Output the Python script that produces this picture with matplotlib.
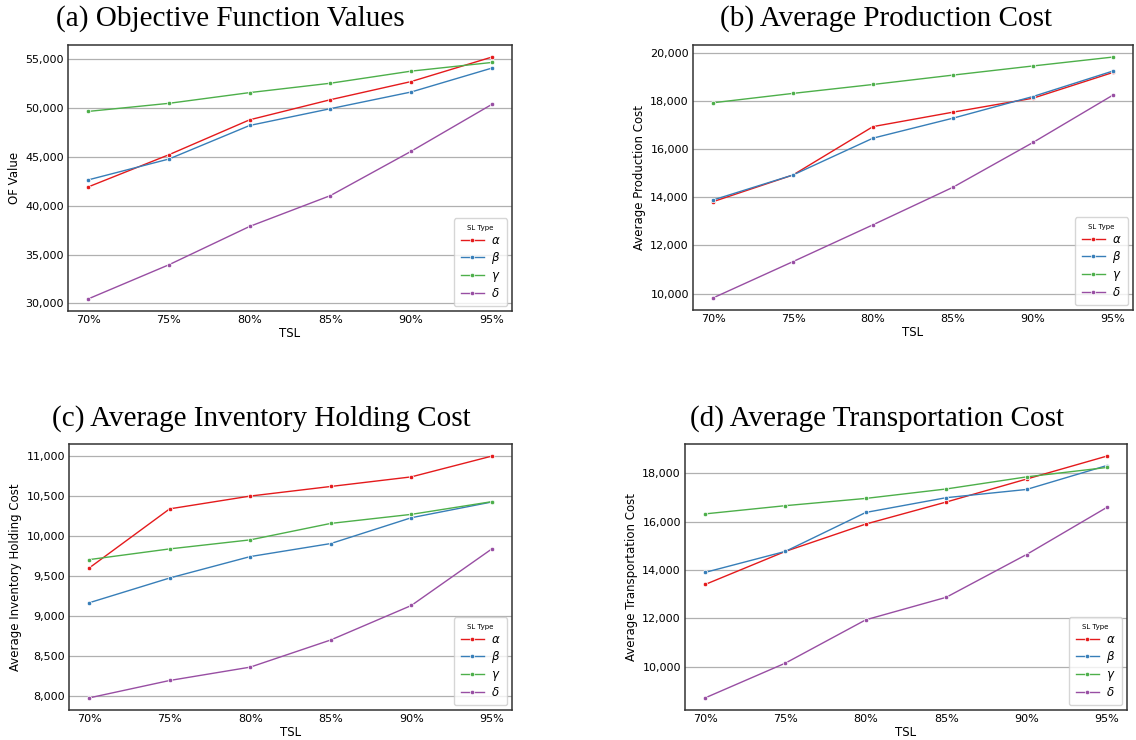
import numpy as np
import matplotlib
matplotlib.use("Agg")
import matplotlib.pyplot as plt
from matplotlib.ticker import FuncFormatter

tsl = ["70%", "75%", "80%", "85%", "90%", "95%"]
sl_types = [r"$\alpha$", r"$\beta$", r"$\gamma$", r"$\delta$"]
colors = ["#e41a1c", "#377eb8", "#4daf4a", "#984ea3"]

# (a) objective function values
of_alpha = [41930, 45230, 48810, 50870, 52730, 55240]
of_beta = [42650, 44790, 48230, 49950, 51660, 54110]
of_gamma = [49670, 50500, 51600, 52560, 53800, 54690]
of_delta = [30450, 33950, 37880, 41040, 45580, 50390]

# (b) production cost
pc_alpha = [13820, 14930, 16940, 17540, 18120, 19190]
pc_beta = [13890, 14930, 16460, 17290, 18190, 19250]
pc_gamma = [17930, 18320, 18690, 19080, 19460, 19830]
pc_delta = [9820, 11330, 12860, 14420, 16280, 18250]

# (c) inventory holding cost
ih_alpha = [9600, 10340, 10500, 10620, 10740, 11000]
ih_beta = [9165, 9475, 9743, 9906, 10229, 10426]
ih_gamma = [9705, 9839, 9952, 10158, 10271, 10430]
ih_delta = [7975, 8193, 8360, 8700, 9131, 9839]

# (d) transportation cost
tc_alpha = [13400, 14770, 15900, 16810, 17760, 18710]
tc_beta = [13900, 14770, 16380, 16990, 17330, 18320]
tc_gamma = [16320, 16660, 16960, 17350, 17850, 18240]
tc_delta = [8710, 10150, 11940, 12870, 14640, 16590]

panels = [
    ("(a) Objective Function Values", "OF Value", [of_alpha, of_beta, of_gamma, of_delta]),
    ("(b) Average Production Cost", "Average Production Cost", [pc_alpha, pc_beta, pc_gamma, pc_delta]),
    ("(c) Average Inventory Holding Cost", "Average Inventory Holding Cost", [ih_alpha, ih_beta, ih_gamma, ih_delta]),
    ("(d) Average Transportation Cost", "Average Transportation Cost", [tc_alpha, tc_beta, tc_gamma, tc_delta]),
]

# axes boxes in pixels: left, top, right, bottom
W, H = 1136, 740
boxes = [(68, 45, 512, 311), (693, 45, 1133, 310), (69, 444, 512, 710), (685, 444, 1127, 710)]
title_pos = [(230, 19), (886, 19), (261, 419), (877, 419)]

fig = plt.figure(figsize=(W / 100, H / 100), dpi=100)
x = np.arange(len(tsl))
fmt = FuncFormatter(lambda v, p: f"{int(v):,}")

for (title, ylabel, series), (l, t, r, b), (tx, ty) in zip(panels, boxes, title_pos):
    ax = fig.add_axes([l / W, 1 - b / H, (r - l) / W, (b - t) / H])
    for vals, c, lab in zip(series, colors, sl_types):
        ax.plot(x, vals, color=c, lw=1.0, marker="o", ms=3.2, mec="white", mew=0.5, label=lab)
    ax.set_xticks(x)
    ax.set_xticklabels(tsl)
    ax.yaxis.set_major_formatter(fmt)
    ax.grid(axis="y", color="#b0b0b0", lw=0.9)
    ax.set_axisbelow(True)
    ax.tick_params(labelsize=8, length=0, pad=3)
    for s in ax.spines.values():
        s.set_color("#333333")
        s.set_linewidth(1.1)
    ax.set_xlabel("TSL", fontsize=8.5, labelpad=1)
    ax.set_ylabel(ylabel, fontsize=8.5, labelpad=3)
    leg = ax.legend(title="SL Type", loc="lower right", fontsize=8.5, title_fontsize=5,
                    handlelength=2.0, handletextpad=0.6, labelspacing=0.25,
                    borderpad=0.55, borderaxespad=0.4)
    fig.text(tx / W, 1 - ty / H, title, family="Liberation Serif", fontsize=21,
             ha="center", va="center")

fig.savefig("out.png", dpi=100)
